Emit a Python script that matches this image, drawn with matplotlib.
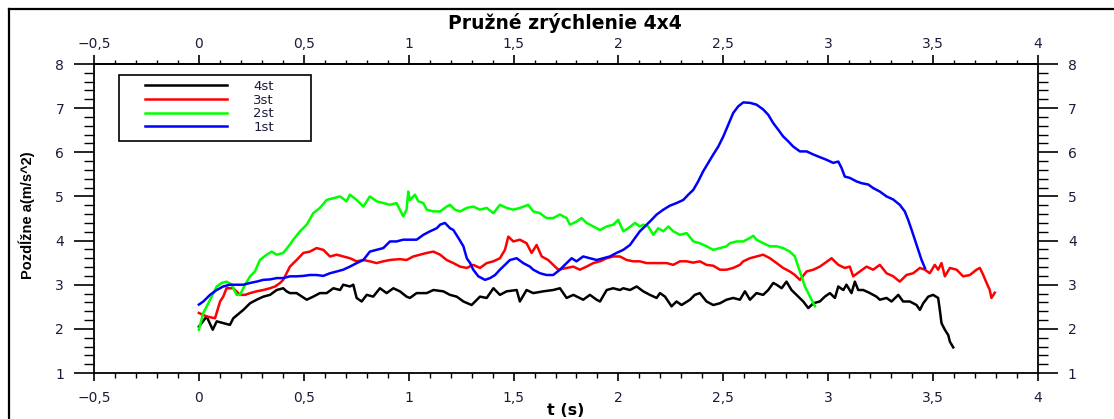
import matplotlib
matplotlib.use("Agg")
import matplotlib.pyplot as plt
from matplotlib.ticker import MultipleLocator, FixedLocator, FuncFormatter
from matplotlib.lines import Line2D
from matplotlib.patches import Rectangle

# (t [s], a [m/s^2]) samples for each storey
black_pts = [
    (0.000, 2.05), (0.037, 2.28), (0.066, 1.98), (0.085, 2.17), (0.116, 2.13), (0.148, 2.09),
    (0.164, 2.24), (0.212, 2.43), (0.244, 2.58), (0.275, 2.66), (0.307, 2.73), (0.339, 2.77),
    (0.371, 2.88), (0.402, 2.92), (0.418, 2.85), (0.434, 2.81), (0.466, 2.81), (0.514, 2.66),
    (0.545, 2.73), (0.577, 2.81), (0.609, 2.81), (0.641, 2.92), (0.673, 2.88), (0.688, 3.00),
    (0.720, 2.96), (0.736, 3.00), (0.752, 2.70), (0.776, 2.62), (0.800, 2.77), (0.831, 2.73),
    (0.863, 2.92), (0.895, 2.81), (0.927, 2.92), (0.958, 2.85), (0.990, 2.73), (1.006, 2.70),
    (1.038, 2.81), (1.086, 2.81), (1.118, 2.88), (1.165, 2.85), (1.197, 2.77), (1.229, 2.73),
    (1.261, 2.62), (1.300, 2.54), (1.340, 2.73), (1.372, 2.70), (1.404, 2.92), (1.435, 2.77),
    (1.467, 2.85), (1.515, 2.88), (1.530, 2.62), (1.562, 2.88), (1.594, 2.81), (1.642, 2.85),
    (1.689, 2.88), (1.721, 2.92), (1.753, 2.70), (1.785, 2.77), (1.832, 2.66), (1.864, 2.77),
    (1.896, 2.66), (1.912, 2.62), (1.944, 2.88), (1.975, 2.92), (2.007, 2.88), (2.023, 2.92),
    (2.055, 2.88), (2.087, 2.96), (2.118, 2.85), (2.150, 2.77), (2.182, 2.70), (2.198, 2.81),
    (2.222, 2.73), (2.253, 2.51), (2.277, 2.62), (2.301, 2.54), (2.341, 2.66), (2.364, 2.77),
    (2.388, 2.81), (2.420, 2.62), (2.452, 2.54), (2.484, 2.58), (2.515, 2.66), (2.547, 2.70),
    (2.579, 2.66), (2.603, 2.85), (2.627, 2.66), (2.658, 2.81), (2.690, 2.77), (2.714, 2.88),
    (2.738, 3.04), (2.754, 3.00), (2.778, 2.92), (2.801, 3.07), (2.825, 2.88), (2.849, 2.77),
    (2.881, 2.62), (2.905, 2.47), (2.929, 2.58), (2.960, 2.62), (2.984, 2.73), (3.008, 2.81),
    (3.032, 2.70), (3.048, 2.96), (3.072, 2.88), (3.087, 3.00), (3.111, 2.81), (3.127, 3.07),
    (3.143, 2.88), (3.167, 2.88), (3.199, 2.81), (3.230, 2.73), (3.246, 2.66), (3.278, 2.70),
    (3.302, 2.62), (3.334, 2.77), (3.357, 2.62), (3.389, 2.62), (3.421, 2.54), (3.437, 2.43),
    (3.453, 2.58), (3.477, 2.73), (3.500, 2.77), (3.524, 2.70), (3.532, 2.43), (3.540, 2.13),
    (3.556, 1.98), (3.572, 1.86), (3.580, 1.71), (3.596, 1.58),
]

red_pts = [
    (0.000, 2.36), (0.037, 2.28), (0.077, 2.24), (0.101, 2.62), (0.116, 2.73), (0.132, 2.92),
    (0.164, 2.92), (0.196, 2.77), (0.220, 2.77), (0.244, 2.81), (0.275, 2.85), (0.307, 2.88),
    (0.339, 2.92), (0.363, 2.96), (0.387, 3.04), (0.402, 3.11), (0.434, 3.41), (0.466, 3.56),
    (0.498, 3.72), (0.529, 3.75), (0.561, 3.83), (0.593, 3.79), (0.625, 3.64), (0.657, 3.68),
    (0.688, 3.64), (0.720, 3.60), (0.752, 3.53), (0.784, 3.56), (0.815, 3.53), (0.847, 3.49),
    (0.879, 3.53), (0.911, 3.56), (0.958, 3.58), (0.990, 3.56), (1.022, 3.64), (1.054, 3.68),
    (1.086, 3.72), (1.118, 3.75), (1.150, 3.68), (1.181, 3.56), (1.213, 3.49), (1.245, 3.41),
    (1.277, 3.38), (1.308, 3.45), (1.340, 3.38), (1.372, 3.49), (1.404, 3.53), (1.435, 3.60),
    (1.459, 3.79), (1.475, 4.09), (1.499, 3.98), (1.530, 4.02), (1.562, 3.94), (1.586, 3.72),
    (1.610, 3.90), (1.634, 3.64), (1.665, 3.56), (1.689, 3.45), (1.713, 3.34), (1.753, 3.38),
    (1.785, 3.41), (1.816, 3.34), (1.848, 3.41), (1.880, 3.49), (1.912, 3.53), (1.944, 3.60),
    (1.975, 3.64), (2.007, 3.64), (2.039, 3.56), (2.071, 3.53), (2.102, 3.53), (2.134, 3.49),
    (2.166, 3.49), (2.198, 3.49), (2.230, 3.49), (2.261, 3.45), (2.293, 3.53), (2.325, 3.53),
    (2.357, 3.50), (2.388, 3.53), (2.420, 3.45), (2.452, 3.43), (2.484, 3.34), (2.515, 3.34),
    (2.547, 3.38), (2.579, 3.45), (2.595, 3.53), (2.627, 3.60), (2.658, 3.64), (2.690, 3.68),
    (2.722, 3.60), (2.754, 3.49), (2.785, 3.38), (2.817, 3.30), (2.841, 3.22), (2.865, 3.11),
    (2.897, 3.30), (2.929, 3.34), (2.960, 3.41), (2.984, 3.49), (3.016, 3.60), (3.048, 3.45),
    (3.079, 3.38), (3.103, 3.41), (3.119, 3.19), (3.151, 3.30), (3.183, 3.41), (3.214, 3.34),
    (3.246, 3.45), (3.278, 3.26), (3.310, 3.19), (3.341, 3.07), (3.373, 3.22), (3.405, 3.26),
    (3.437, 3.38), (3.461, 3.34), (3.484, 3.26), (3.508, 3.45), (3.524, 3.34), (3.540, 3.49),
    (3.556, 3.19), (3.580, 3.38), (3.612, 3.34), (3.643, 3.19), (3.675, 3.22), (3.707, 3.34),
    (3.723, 3.38), (3.739, 3.22), (3.755, 3.04), (3.770, 2.88), (3.778, 2.70), (3.794, 2.82),
]

green_pts = [
    (0.000, 1.98), (0.021, 2.36), (0.045, 2.58), (0.069, 2.81), (0.085, 2.96), (0.109, 3.04),
    (0.132, 3.07), (0.156, 3.00), (0.180, 2.77), (0.196, 2.77), (0.220, 3.00), (0.244, 3.19),
    (0.267, 3.30), (0.291, 3.56), (0.323, 3.68), (0.347, 3.75), (0.371, 3.68), (0.402, 3.72),
    (0.434, 3.91), (0.450, 4.02), (0.482, 4.21), (0.514, 4.36), (0.545, 4.62), (0.577, 4.74),
    (0.609, 4.92), (0.641, 4.96), (0.673, 5.00), (0.704, 4.89), (0.720, 5.04), (0.752, 4.92),
    (0.784, 4.77), (0.815, 5.00), (0.847, 4.89), (0.879, 4.85), (0.911, 4.81), (0.942, 4.85),
    (0.974, 4.55), (0.990, 4.70), (0.998, 5.11), (1.006, 4.92), (1.030, 5.04), (1.046, 4.89),
    (1.070, 4.85), (1.086, 4.70), (1.118, 4.66), (1.150, 4.66), (1.181, 4.77), (1.197, 4.81),
    (1.221, 4.70), (1.245, 4.66), (1.277, 4.74), (1.308, 4.77), (1.340, 4.70), (1.372, 4.74),
    (1.404, 4.62), (1.435, 4.81), (1.467, 4.74), (1.499, 4.70), (1.530, 4.74), (1.570, 4.81),
    (1.594, 4.66), (1.626, 4.62), (1.657, 4.51), (1.689, 4.51), (1.721, 4.59), (1.753, 4.51),
    (1.769, 4.36), (1.800, 4.43), (1.824, 4.51), (1.848, 4.40), (1.880, 4.32), (1.912, 4.24),
    (1.944, 4.32), (1.975, 4.36), (1.999, 4.47), (2.023, 4.21), (2.047, 4.28), (2.079, 4.40),
    (2.102, 4.32), (2.118, 4.36), (2.142, 4.32), (2.166, 4.13), (2.190, 4.28), (2.214, 4.21),
    (2.238, 4.32), (2.261, 4.21), (2.293, 4.13), (2.325, 4.17), (2.357, 3.98), (2.388, 3.94),
    (2.420, 3.87), (2.452, 3.79), (2.484, 3.83), (2.515, 3.87), (2.531, 3.94), (2.563, 3.98),
    (2.595, 3.98), (2.627, 4.06), (2.643, 4.11), (2.658, 4.02), (2.690, 3.94), (2.722, 3.87),
    (2.754, 3.87), (2.785, 3.83), (2.817, 3.75), (2.841, 3.64), (2.857, 3.41), (2.873, 3.19),
    (2.889, 2.96), (2.913, 2.73), (2.937, 2.51),
]

blue_pts = [
    (0.000, 2.55), (0.021, 2.62), (0.053, 2.77), (0.085, 2.88), (0.116, 2.96), (0.148, 3.00),
    (0.180, 3.00), (0.212, 3.00), (0.244, 3.04), (0.275, 3.07), (0.307, 3.11), (0.339, 3.12),
    (0.371, 3.15), (0.402, 3.15), (0.434, 3.19), (0.466, 3.19), (0.498, 3.20), (0.529, 3.22),
    (0.561, 3.22), (0.593, 3.20), (0.625, 3.26), (0.657, 3.30), (0.688, 3.34), (0.720, 3.41),
    (0.752, 3.49), (0.784, 3.56), (0.815, 3.75), (0.847, 3.79), (0.879, 3.83), (0.911, 3.98),
    (0.942, 3.98), (0.974, 4.02), (1.006, 4.02), (1.038, 4.02), (1.070, 4.13), (1.102, 4.21),
    (1.134, 4.28), (1.150, 4.36), (1.173, 4.40), (1.197, 4.28), (1.213, 4.24), (1.237, 4.06),
    (1.261, 3.87), (1.277, 3.60), (1.293, 3.49), (1.308, 3.34), (1.332, 3.19), (1.364, 3.11),
    (1.388, 3.15), (1.412, 3.22), (1.435, 3.34), (1.459, 3.45), (1.483, 3.56), (1.515, 3.60),
    (1.546, 3.49), (1.578, 3.41), (1.594, 3.34), (1.626, 3.26), (1.657, 3.22), (1.689, 3.22),
    (1.721, 3.34), (1.753, 3.49), (1.777, 3.60), (1.800, 3.53), (1.832, 3.64), (1.864, 3.60),
    (1.896, 3.56), (1.928, 3.60), (1.959, 3.64), (1.991, 3.72), (2.023, 3.79), (2.055, 3.90),
    (2.079, 4.06), (2.102, 4.21), (2.126, 4.32), (2.158, 4.47), (2.182, 4.59), (2.214, 4.70),
    (2.245, 4.79), (2.277, 4.85), (2.309, 4.92), (2.333, 5.04), (2.357, 5.15), (2.380, 5.34),
    (2.404, 5.57), (2.428, 5.76), (2.452, 5.95), (2.476, 6.13), (2.500, 6.36), (2.524, 6.63),
    (2.547, 6.89), (2.571, 7.04), (2.595, 7.13), (2.627, 7.12), (2.658, 7.08), (2.690, 6.97),
    (2.714, 6.85), (2.738, 6.66), (2.762, 6.51), (2.785, 6.36), (2.809, 6.25), (2.833, 6.13),
    (2.865, 6.02), (2.897, 6.02), (2.929, 5.95), (2.960, 5.89), (2.992, 5.83), (3.024, 5.76),
    (3.048, 5.79), (3.064, 5.64), (3.079, 5.45), (3.103, 5.42), (3.135, 5.34), (3.159, 5.30),
    (3.191, 5.27), (3.214, 5.19), (3.246, 5.11), (3.278, 5.00), (3.310, 4.93), (3.341, 4.81),
    (3.365, 4.66), (3.381, 4.47), (3.397, 4.25), (3.413, 4.02), (3.429, 3.79), (3.445, 3.56),
    (3.461, 3.38),
]

series = [
    ("4st", black_pts, "black"),
    ("3st", red_pts, "#ff0000"),
    ("2st", green_pts, "#00ff00"),
    ("1st", blue_pts, "#0000ff"),
]

x_ticks = [-0.5, 0, 0.5, 1, 1.5, 2, 2.5, 3, 3.5, 4]
title = "Pružné zrýchlenie 4x4"
xlabel = "t (s)"
ylabel = "Pozdĺžne a(m/s^2)"
tick_col = "#1c1c3a"


def comma_fmt(x, pos):
    s = f"{x:g}".replace(".", ",")
    return s.replace("-", "\u2212")


W, H = 1114, 419
fig = plt.figure(figsize=(W / 100, H / 100), dpi=100)
ax = fig.add_axes([94 / W, 1 - 373 / H, 944 / W, 309 / H])

handles = []
for name, pts, col in series:
    t, a = zip(*pts)
    ln, = ax.plot(t, a, color=col, lw=1.8, label=name)
    handles.append(ln)

ax.set_xlim(-0.5, 4)
ax.set_ylim(1, 8)
ax.xaxis.set_major_locator(FixedLocator(x_ticks))
ax.xaxis.set_minor_locator(MultipleLocator(0.1))
ax.yaxis.set_major_locator(MultipleLocator(1))
ax.yaxis.set_minor_locator(MultipleLocator(0.2))
ax.xaxis.set_major_formatter(FuncFormatter(comma_fmt))
ax.yaxis.set_major_formatter(FuncFormatter(comma_fmt))

for sp in ax.spines.values():
    sp.set_linewidth(1.3)

ax.tick_params(axis="x", which="major", direction="out", length=6, width=1.2,
               pad=7, labelsize=10, labelcolor=tick_col)
ax.tick_params(axis="x", which="minor", direction="out", length=3.5, width=1.0)
ax.tick_params(axis="y", which="major", direction="out", length=14.5, width=1.2,
               pad=7, labelsize=10, labelcolor=tick_col, right=True, labelright=True)
ax.tick_params(axis="y", which="minor", direction="out", length=7.5, width=1.0, right=True)

# duplicate time axis along the top edge
top = ax.secondary_xaxis("top")
top.xaxis.set_major_locator(FixedLocator(x_ticks))
top.xaxis.set_minor_locator(MultipleLocator(0.1))
top.xaxis.set_major_formatter(FuncFormatter(comma_fmt))
top.tick_params(which="major", direction="out", length=6.5, width=1.2, pad=3,
                labelsize=10, labelcolor=tick_col)
top.tick_params(which="minor", direction="out", length=3, width=1.0)
top.spines["top"].set_linewidth(1.3)

# legend box
box = Rectangle(((119 - 94) / 944, (373 - 141) / 309), 192 / 944, 66 / 309,
                transform=ax.transAxes, facecolor="white", edgecolor="black",
                lw=1.2, zorder=4)
ax.add_patch(box)
leg = ax.legend(handles, [h.get_label() for h in handles], loc="upper left",
                bbox_to_anchor=((145 - 94) / 944, (373 - 80) / 309),
                frameon=False, fontsize=9.5, handlelength=6.2, handletextpad=2.0,
                labelspacing=0.05, borderpad=0, borderaxespad=0)
leg.set_zorder(5)
for txt in leg.get_texts():
    txt.set_color(tick_col)

fig.text(0.507, 1 - 23 / H, title, ha="center", va="center",
         fontsize=13.5, fontweight="bold", color="black")
fig.text(566 / W, 1 - 410 / H, xlabel, ha="center", va="center",
         fontsize=11.5, fontweight="bold", color="black")
fig.text(27 / W, 1 - 215 / H, ylabel, rotation=90, ha="center", va="center",
         fontsize=10.5, fontweight="bold", color="black",
         family=["Liberation Sans", "DejaVu Sans"])

# outer frame (left and top edges)
fig.add_artist(Line2D([8.5 / W, 8.5 / W], [0, 1 - 9 / H], transform=fig.transFigure,
                      color="black", lw=1.6))
fig.add_artist(Line2D([8.5 / W, 1], [1 - 9 / H, 1 - 9 / H], transform=fig.transFigure,
                      color="black", lw=1.6))

fig.savefig("out.png", dpi=100, facecolor="white")
